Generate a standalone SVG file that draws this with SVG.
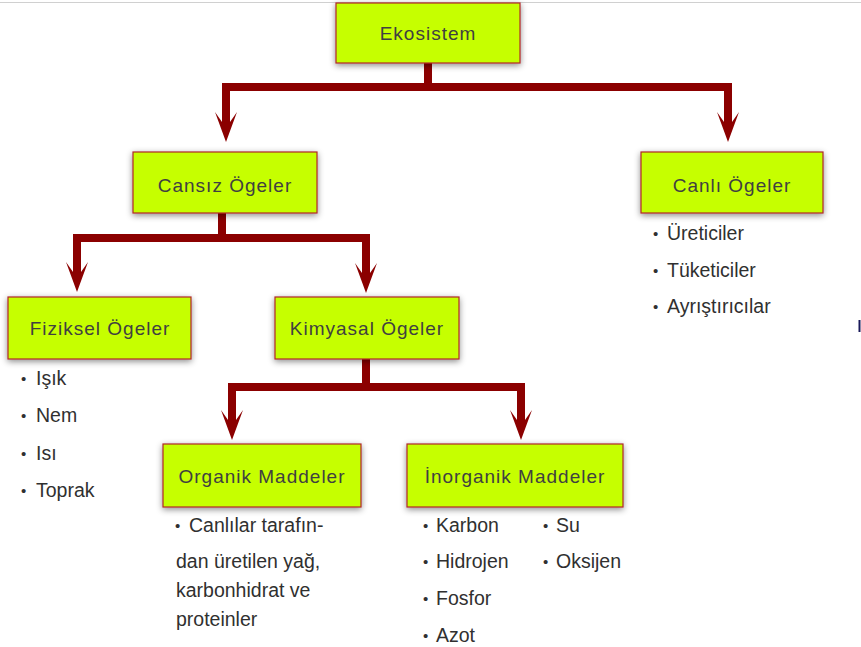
<svg xmlns="http://www.w3.org/2000/svg" width="861" height="647" viewBox="0 0 861 647">
<style>
  .box { fill: #c6ff00; stroke: #b02a2a; stroke-width: 1.2; filter: url(#sh); }
  .lbl { font-family: "Liberation Sans", Arial, sans-serif; font-size: 19px; letter-spacing: 1px; fill: #404040; text-anchor: middle; }
  .item { font-family: "Liberation Sans", Arial, sans-serif; font-size: 19.5px; fill: #303030; }
  .bul { font-family: "Liberation Sans", Arial, sans-serif; font-size: 15px; fill: #303030; }
  .con { fill: none; stroke: #8b0000; stroke-width: 8; stroke-linejoin: miter; stroke-linecap: butt; }
  .arr { marker-end: url(#head); }
</style>
<defs>
  <filter id="sh" x="-20%" y="-30%" width="140%" height="170%">
    <feDropShadow dx="0" dy="2" stdDeviation="3" flood-color="#000" flood-opacity="0.45"/>
  </filter>
  <marker id="head" markerUnits="userSpaceOnUse" markerWidth="34" markerHeight="26" viewBox="-32 -13 34 26" refX="-18" refY="0" orient="auto">
    <path d="M0,0 L-30,-11 L-20,-4 L-20,4 L-30,11 Z" fill="#8b0000"/>
  </marker>
</defs>
<rect x="0" y="0" width="861" height="647" fill="#ffffff"/>
<line x1="0" y1="2.5" x2="861" y2="2.5" stroke="#d0d0d0" stroke-width="1"/>
<rect x="858.5" y="320" width="2" height="12" fill="#1a1a5a"/>

<g id="connectors">
  <path class="con arr" d="M428,63 V87 H226 V124"/>
  <path class="con arr" d="M428,87 H728 V124"/>
  <path class="con arr" d="M222,213 V238 H77 V274"/>
  <path class="con arr" d="M222,238 H366 V275"/>
  <path class="con arr" d="M366,359 V387 H232 V422"/>
  <path class="con arr" d="M366,387 H521 V422"/>
</g>

<g id="ekosistem">
  <rect class="box" x="336" y="3" width="184" height="60"/>
  <text class="lbl" x="428" y="40">Ekosistem</text>
</g>
<g id="cansiz">
  <rect class="box" x="133" y="152" width="184" height="61"/>
  <text class="lbl" x="225" y="192">Cansız Ögeler</text>
</g>
<g id="canli">
  <rect class="box" x="641" y="152" width="182" height="61"/>
  <text class="lbl" x="732" y="192">Canlı Ögeler</text>
  <text class="bul" x="653" y="239">•</text><text class="item" x="667" y="240">Üreticiler</text>
  <text class="bul" x="653" y="276">•</text><text class="item" x="667" y="277">Tüketiciler</text>
  <text class="bul" x="653" y="312">•</text><text class="item" x="667" y="313">Ayrıştırıcılar</text>
</g>
<g id="fiziksel">
  <rect class="box" x="8" y="297" width="183" height="62"/>
  <text class="lbl" x="100" y="335">Fiziksel Ögeler</text>
  <text class="bul" x="21" y="384">•</text><text class="item" x="36" y="385">Işık</text>
  <text class="bul" x="21" y="421">•</text><text class="item" x="36" y="422">Nem</text>
  <text class="bul" x="21" y="459">•</text><text class="item" x="36" y="460">Isı</text>
  <text class="bul" x="21" y="496">•</text><text class="item" x="36" y="497">Toprak</text>
</g>
<g id="kimyasal">
  <rect class="box" x="275" y="297" width="184" height="62"/>
  <text class="lbl" x="367" y="335">Kimyasal Ögeler</text>
</g>
<g id="organik">
  <rect class="box" x="163" y="444" width="198" height="63"/>
  <text class="lbl" x="262" y="483">Organik Maddeler</text>
  <text class="bul" x="175" y="531">•</text><text class="item" x="189" y="532">Canlılar tarafın-</text>
  <text class="item" x="176" y="568">dan üretilen yağ,</text>
  <text class="item" x="176" y="597">karbonhidrat ve</text>
  <text class="item" x="176" y="626">proteinler</text>
</g>
<g id="inorganik">
  <rect class="box" x="407" y="444" width="216" height="63"/>
  <text class="lbl" x="515" y="483">İnorganik Maddeler</text>
  <text class="bul" x="423" y="531">•</text><text class="item" x="436" y="532">Karbon</text>
  <text class="bul" x="423" y="567">•</text><text class="item" x="436" y="568">Hidrojen</text>
  <text class="bul" x="423" y="604">•</text><text class="item" x="436" y="605">Fosfor</text>
  <text class="bul" x="423" y="641">•</text><text class="item" x="436" y="642">Azot</text>
  <text class="bul" x="543" y="531">•</text><text class="item" x="556" y="532">Su</text>
  <text class="bul" x="543" y="567">•</text><text class="item" x="556" y="568">Oksijen</text>
</g>
</svg>
